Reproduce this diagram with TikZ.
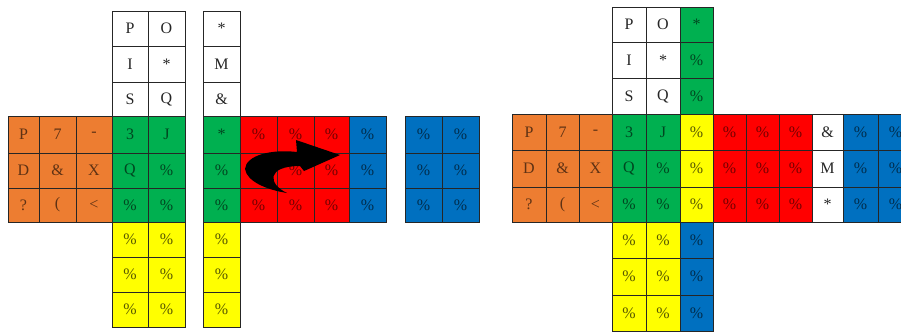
\documentclass[tikz,border=0pt]{standalone}
\usepackage{fontspec}
\setmainfont{Liberation Serif}
\definecolor{cor}{HTML}{ED7D31}
\definecolor{cgr}{HTML}{00B050}
\definecolor{cre}{HTML}{FF0000}
\definecolor{cbl}{HTML}{0070C0}
\definecolor{cye}{HTML}{FFFF00}
\definecolor{cwh}{HTML}{FFFFFF}
\colorlet{corT}{cor!40!black}
\colorlet{cgrT}{cgr!40!black}
\colorlet{creT}{cre!45!black}
\colorlet{cblT}{cbl!40!black}
\colorlet{cyeT}{cye!35!black}
\colorlet{cwhT}{black!85}
\tikzset{cellbox/.style={draw=black!85, line width=0.9pt, inner sep=0pt, outer sep=0pt, font=\fontsize{16}{16}\selectfont}}
\newcommand\st{\raisebox{-0.3ex}{*}}
\newcommand\lp{(}
\def\XL{{8,39,76,112,148,185,203,240,277,314,349,386,405,442,479}}
\def\YL{{11,46,82,116,153,188,222,257,292,327}}
\def\XR{{512,546,579,612,646,680,713,746,779,812,843,878,913}}
\def\YR{{7,42,78,114,150,187,222,258,295,331}}
\newcommand\crow[7]{%
  \foreach \ct [count=\k from 0] in {#7}{%
    \pgfmathtruncatemacro\ci{#4+\k}%
    \pgfmathsetmacro\xa{#1[\ci]}\pgfmathsetmacro\xb{#1[\ci+1]}%
    \pgfmathsetmacro\ya{#2[#5]}\pgfmathsetmacro\yb{#2[#5+1]}%
    \node[cellbox, fill=#6, text=#6T, minimum width={(\xb-\xa)*1pt}, minimum height={(\yb-\ya)*1pt}] (#3\ci-#5) at ({(\xa+\xb)/2},{(\ya+\yb)/2}) {\ct};
  }}
\begin{document}
\begin{tikzpicture}[x=1pt,y=-1pt]
\useasboundingbox (0,0) rectangle (901,333);
\clip (0,0) rectangle (901,333);
% ---------- left diagram ----------
\crow{\XL}{\YL}{L}{3}{0}{cwh}{P,O}
\crow{\XL}{\YL}{L}{3}{1}{cwh}{I,\st}
\crow{\XL}{\YL}{L}{3}{2}{cwh}{S,Q}
\crow{\XL}{\YL}{L}{0}{3}{cor}{P,7,-}
\crow{\XL}{\YL}{L}{0}{4}{cor}{D,\&,X}
\crow{\XL}{\YL}{L}{0}{5}{cor}{?,\lp,<}
\crow{\XL}{\YL}{L}{3}{3}{cgr}{3,J}
\crow{\XL}{\YL}{L}{3}{4}{cgr}{Q,\%}
\crow{\XL}{\YL}{L}{3}{5}{cgr}{\%,\%}
\crow{\XL}{\YL}{L}{3}{6}{cye}{\%,\%}
\crow{\XL}{\YL}{L}{3}{7}{cye}{\%,\%}
\crow{\XL}{\YL}{L}{3}{8}{cye}{\%,\%}
% separate column
\crow{\XL}{\YL}{L}{6}{0}{cwh}{\st}
\crow{\XL}{\YL}{L}{6}{1}{cwh}{M}
\crow{\XL}{\YL}{L}{6}{2}{cwh}{\&}
\crow{\XL}{\YL}{L}{6}{3}{cgr}{\st}
\crow{\XL}{\YL}{L}{6}{4}{cgr}{\%}
\crow{\XL}{\YL}{L}{6}{5}{cgr}{\%}
\crow{\XL}{\YL}{L}{6}{6}{cye}{\%}
\crow{\XL}{\YL}{L}{6}{7}{cye}{\%}
\crow{\XL}{\YL}{L}{6}{8}{cye}{\%}
% red face and blue
\crow{\XL}{\YL}{L}{7}{3}{cre}{\%,\%,\%}
\crow{\XL}{\YL}{L}{7}{4}{cre}{\%,\%,\%}
\crow{\XL}{\YL}{L}{7}{5}{cre}{\%,\%,\%}
\crow{\XL}{\YL}{L}{10}{3}{cbl}{\%}
\crow{\XL}{\YL}{L}{10}{4}{cbl}{\%}
\crow{\XL}{\YL}{L}{10}{5}{cbl}{\%}
\crow{\XL}{\YL}{L}{12}{3}{cbl}{\%,\%}
\crow{\XL}{\YL}{L}{12}{4}{cbl}{\%,\%}
\crow{\XL}{\YL}{L}{12}{5}{cbl}{\%,\%}
% curved arrow
\fill[black] (297,152) .. controls (272,149) and (246,155) .. (245,169)
  .. controls (247,182) and (268,190) .. (287,193)
  .. controls (268,184) and (266,166) .. (300,166)
  -- (304,171) -- (340,155) -- (296,140) -- cycle;
% ---------- right diagram ----------
\crow{\XR}{\YR}{R}{3}{0}{cwh}{P,O}
\crow{\XR}{\YR}{R}{3}{1}{cwh}{I,\st}
\crow{\XR}{\YR}{R}{3}{2}{cwh}{S,Q}
\crow{\XR}{\YR}{R}{5}{0}{cgr}{\st}
\crow{\XR}{\YR}{R}{5}{1}{cgr}{\%}
\crow{\XR}{\YR}{R}{5}{2}{cgr}{\%}
\crow{\XR}{\YR}{R}{0}{3}{cor}{P,7,-}
\crow{\XR}{\YR}{R}{0}{4}{cor}{D,\&,X}
\crow{\XR}{\YR}{R}{0}{5}{cor}{?,\lp,<}
\crow{\XR}{\YR}{R}{3}{3}{cgr}{3,J}
\crow{\XR}{\YR}{R}{3}{4}{cgr}{Q,\%}
\crow{\XR}{\YR}{R}{3}{5}{cgr}{\%,\%}
\crow{\XR}{\YR}{R}{5}{3}{cye}{\%}
\crow{\XR}{\YR}{R}{5}{4}{cye}{\%}
\crow{\XR}{\YR}{R}{5}{5}{cye}{\%}
\crow{\XR}{\YR}{R}{6}{3}{cre}{\%,\%,\%}
\crow{\XR}{\YR}{R}{6}{4}{cre}{\%,\%,\%}
\crow{\XR}{\YR}{R}{6}{5}{cre}{\%,\%,\%}
\crow{\XR}{\YR}{R}{9}{3}{cwh}{\&}
\crow{\XR}{\YR}{R}{9}{4}{cwh}{M}
\crow{\XR}{\YR}{R}{9}{5}{cwh}{\st}
\crow{\XR}{\YR}{R}{10}{3}{cbl}{\%,\%}
\crow{\XR}{\YR}{R}{10}{4}{cbl}{\%,\%}
\crow{\XR}{\YR}{R}{10}{5}{cbl}{\%,\%}
\crow{\XR}{\YR}{R}{3}{6}{cye}{\%,\%}
\crow{\XR}{\YR}{R}{3}{7}{cye}{\%,\%}
\crow{\XR}{\YR}{R}{3}{8}{cye}{\%,\%}
\crow{\XR}{\YR}{R}{5}{6}{cbl}{\%}
\crow{\XR}{\YR}{R}{5}{7}{cbl}{\%}
\crow{\XR}{\YR}{R}{5}{8}{cbl}{\%}
\end{tikzpicture}
\end{document}
